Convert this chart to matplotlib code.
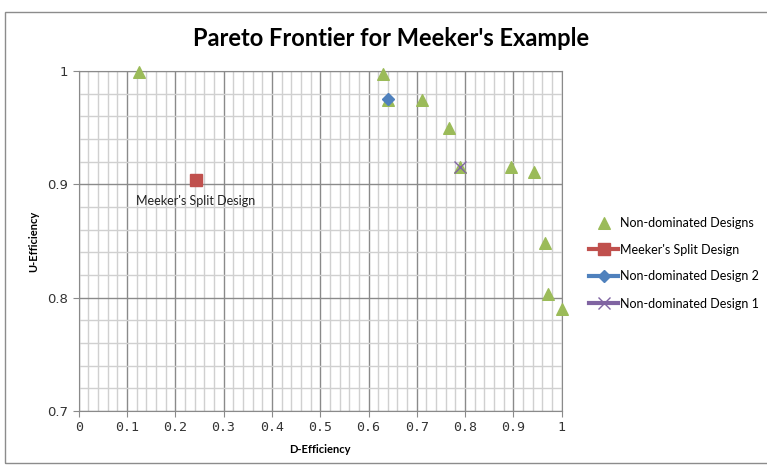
import matplotlib
matplotlib.use("Agg")
import matplotlib.pyplot as plt
from matplotlib.patches import Rectangle
from matplotlib.ticker import MultipleLocator

# Data
nd_d = [0.125, 0.629, 0.640, 0.710, 0.767, 0.790, 0.896, 0.942, 0.965, 0.972, 1.000]
nd_u = [0.999, 0.997, 0.974, 0.974, 0.950, 0.915, 0.915, 0.911, 0.848, 0.803, 0.790]
split_d = [0.242]
split_u = [0.904]
nd2_d = [0.640]
nd2_u = [0.975]
nd1_d = [0.790]
nd1_u = [0.915]

fig = plt.figure(figsize=(7.67, 4.67), dpi=100)
fig.patches.append(Rectangle((5/767, 4/467), 770/767, 451/467, transform=fig.transFigure,
                             fill=False, edgecolor="#8c8c8c", linewidth=1.0))
ax = fig.add_axes([78.7/767, 56/467, 483/767, 340/467])

ax.set_xlim(0, 1)
ax.set_ylim(0.7, 1.0)
ax.xaxis.set_major_locator(MultipleLocator(0.1))
ax.xaxis.set_minor_locator(MultipleLocator(0.02))
ax.yaxis.set_major_locator(MultipleLocator(0.1))
ax.yaxis.set_minor_locator(MultipleLocator(0.02))
ax.grid(which="minor", color="#d0d0d0", linewidth=1.0)
ax.grid(which="major", color="#8a8a8a", linewidth=1.0)
ax.set_axisbelow(True)
for s in ax.spines.values():
    s.set_color("#8a8a8a")
ax.tick_params(which="minor", length=0)
ax.tick_params(which="major", length=4, color="#8a8a8a", labelsize=9.5, labelcolor="#333333")
ax.set_xticklabels(["0" if abs(v) < 1e-9 else ("1" if abs(v-1) < 1e-9 else f"{v:.1f}") for v in ax.get_xticks()],
                   family="DejaVu Sans Mono")
ax.set_yticks([0.7, 0.8, 0.9, 1.0])
ax.set_yticklabels(["0.7", "0.8", "0.9", "1"], family="DejaVu Sans")

ax.scatter(nd_d, nd_u, marker="^", s=70, color="#9BBB59", zorder=3, label="Non-dominated Designs", clip_on=False)
ax.plot(split_d, split_u, marker="s", markersize=8, color="#C0504D", linewidth=3, label="Meeker's Split Design", zorder=4)
ax.plot(nd2_d, nd2_u, marker="D", markersize=6, color="#4F81BD", linewidth=3, label="Non-dominated Design 2", zorder=4)
ax.plot(nd1_d, nd1_u, marker="x", markersize=8, color="#8064A2", linewidth=3, label="Non-dominated Design 1", zorder=4)

ax.annotate("Meeker's Split Design", (split_d[0], split_u[0]), xytext=(0, -15),
            textcoords="offset points", ha="center", va="center", fontsize=9,
            family="Lato", color="#222222")

fig.text(391/767, 1 - 39/467, "Pareto Frontier for Meeker's Example", fontsize=17, fontweight="bold",
         family="Lato", ha="center", va="center")
ax.set_xlabel("D-Efficiency", fontsize=8, fontweight="bold", labelpad=7, family="Lato")
ax.set_ylabel("U-Efficiency", fontsize=8, fontweight="bold", labelpad=6, family="Lato")

handles, labels = ax.get_legend_handles_labels()
leg = fig.legend(handles=handles, labels=labels,
                 loc="center left", bbox_to_anchor=(583/767, 1 - 263/467), frameon=False,
                 prop={"family": "Lato", "size": 9},
                 handlelength=2.3, handletextpad=0.2, labelspacing=1.2, borderpad=0)

fig.savefig("out.png", dpi=100)
